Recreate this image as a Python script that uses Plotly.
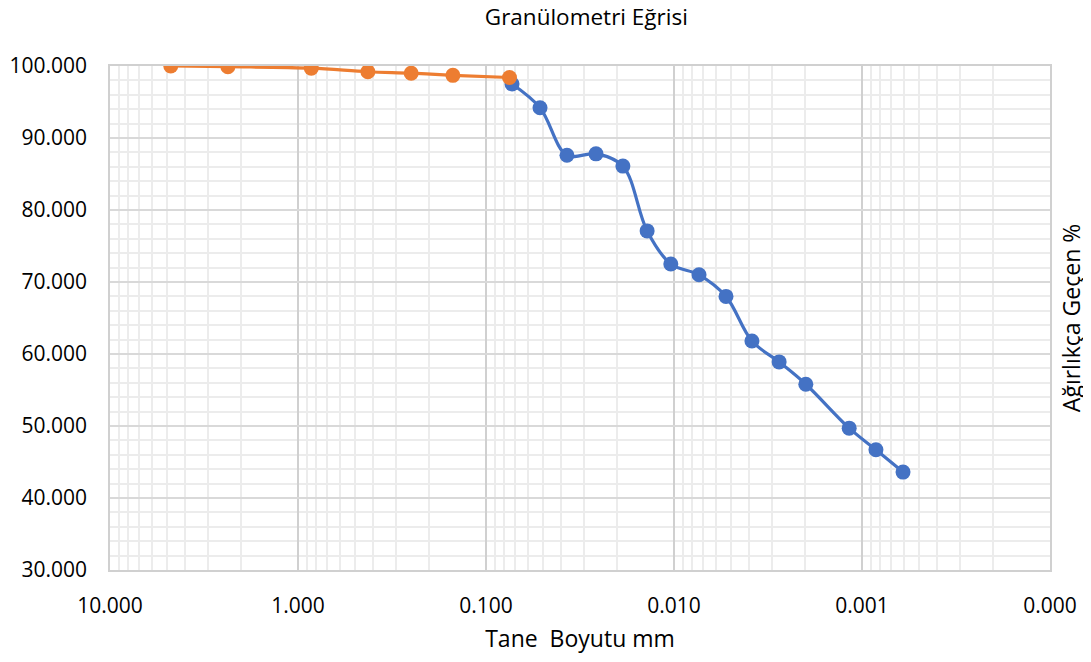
import plotly.graph_objects as go

TITLE = "Granülometri Eğrisi"

# sieve analysis (orange) and hydrometer (blue), grain size in mm
SIEVE_SIZE = [4.75, 2.36, 0.85, 0.425, 0.25, 0.15, 0.075]
SIEVE_PASS = [100.0, 99.9, 99.7, 99.2, 99.0, 98.7, 98.4]

HYDRO_SIZE = [0.0727, 0.0516, 0.0371, 0.0260, 0.0187, 0.0139, 0.0104, 0.00736,
              0.00529, 0.00385, 0.00276, 0.00199, 0.00117, 0.000843, 0.000605]
HYDRO_PASS = [97.5, 94.2, 87.6, 87.8, 86.1, 77.1, 72.5, 71.0,
              68.0, 61.8, 58.9, 55.8, 49.7, 46.7, 43.6]

FONT = "Open Sans, Liberation Sans, sans-serif"
ORANGE = "#ED7D31"
BLUE = "#4472C4"

fig = go.Figure()
fig.add_trace(
    go.Scatter(
        x=HYDRO_SIZE, y=HYDRO_PASS, mode="lines+markers", name="Hidrometre",
        line=dict(color=BLUE, width=3.2, shape="spline", smoothing=1.0),
        marker=dict(color=BLUE, size=15),
    )
)
fig.add_trace(
    go.Scatter(
        x=SIEVE_SIZE, y=SIEVE_PASS, mode="lines+markers", name="Elek",
        line=dict(color=ORANGE, width=3.2, shape="spline", smoothing=1.0),
        marker=dict(color=ORANGE, size=15),
    )
)

# the page body has an 8px margin, so the figure is drawn a bit smaller
fig.update_layout(
    width=1083,
    height=646,
    paper_bgcolor="white",
    plot_bgcolor="white",
    showlegend=False,
    margin=dict(l=102, r=41, t=58, b=84),
    font=dict(family=FONT, size=21, color="#000000"),
    title=dict(text=TITLE, x=0.534, xanchor="center", y=0.998, yanchor="top",
               font=dict(family=FONT, size=22.5, color="#000000")),
    annotations=[
        dict(text="Ağırlıkça Geçen %", textangle=-90, xref="paper", yref="paper",
             x=1.0225, y=0.5, xanchor="center", yanchor="middle", showarrow=False,
             font=dict(family=FONT, size=23, color="#000000")),
    ],
)
fig.update_xaxes(
    type="log",
    range=[1, -4],
    dtick=1,
    tickformat=".3f",
    showgrid=True,
    gridcolor="#d0d0d0",
    gridwidth=1.5,
    minor=dict(dtick="D1", showgrid=True, gridcolor="#ececec", gridwidth=1.5, ticks=""),
    showline=True,
    linecolor="#d0d0d0",
    linewidth=1.5,
    mirror=True,
    ticks="",
    ticklabelstandoff=16,
    title=dict(text="Tane  Boyutu mm", standoff=21, font=dict(size=23)),
    zeroline=False,
    automargin=False,
)
fig.update_yaxes(
    range=[30, 100],
    dtick=10,
    tickformat=".3f",
    showgrid=True,
    gridcolor="#d9d9d9",
    gridwidth=1.5,
    minor=dict(dtick=2, showgrid=True, gridcolor="#ececec", gridwidth=1.5, ticks=""),
    showline=True,
    linecolor="#d0d0d0",
    linewidth=1.5,
    mirror=True,
    ticks="",
    ticklabelstandoff=17,
    zeroline=False,
    automargin=False,
)

fig.write_html("out.html")
